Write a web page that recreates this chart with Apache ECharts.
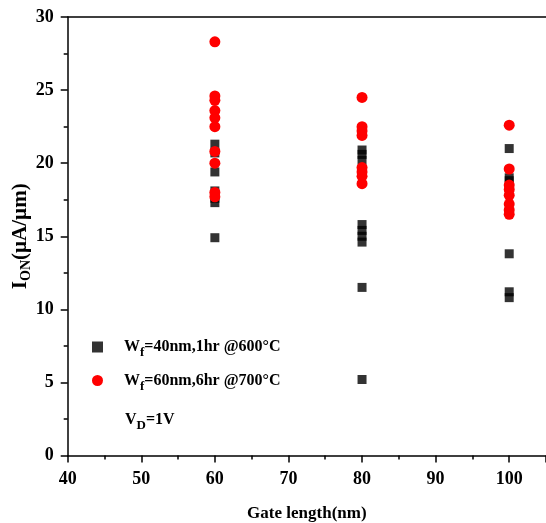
<!DOCTYPE html>
<html>
<head>
<meta charset="utf-8">
<script src="https://cdn.jsdelivr.net/npm/echarts@6/dist/echarts.min.js"></script>
<style>
  html, body { margin: 0; padding: 0; background: #fff; }
  #chart { width: 546px; height: 523px; }
</style>
</head>
<body>
<div id="chart"></div>
<script>
// Gate lengths measured (nm)
const gateLengths = [60, 80, 100];

// On-current (uA/um) per gate length, Wf = 40 nm, 1 hr @ 600 C
const ion40nm_L60 = [21.3, 20.7, 19.4, 18.1, 17.6, 17.3, 14.9];
const ion40nm_L80 = [20.9, 20.6, 20.2, 15.8, 15.4, 15.0, 14.6, 11.5, 5.2];
const ion40nm_L100 = [21.0, 19.0, 18.8, 13.8, 11.2, 10.8];

// On-current (uA/um) per gate length, Wf = 60 nm, 6 hr @ 700 C
const ion60nm_L60 = [28.3, 24.6, 24.3, 23.6, 23.1, 22.5, 20.8, 20.0, 18.0, 17.7];
const ion60nm_L80 = [24.5, 22.5, 22.2, 21.9, 19.7, 19.4, 19.1, 18.6];
const ion60nm_L100 = [22.6, 19.6, 18.5, 18.2, 17.8, 17.2, 16.8, 16.5];

const xTickValues = [40, 50, 60, 70, 80, 90, 100];
const yTickValues = [0, 5, 10, 15, 20, 25, 30];

function pairs(lists) {
  const out = [];
  lists.forEach((vals, i) => vals.forEach(v => out.push([gateLengths[i], v])));
  return out;
}

const font = 'Liberation Serif';
const chart = echarts.init(document.getElementById('chart'), null, { renderer: 'canvas' });

const axisLine = { show: true, lineStyle: { color: '#000', width: 1.5 } };

chart.setOption({
  animation: false,
  backgroundColor: '#fff',
  grid: { left: 67.7, top: 17, right: 0, bottom: 67.5, containLabel: false, outerBoundsMode: 'none' },
  xAxis: [{
    type: 'value',
    min: 40, max: 105, interval: 10,
    axisLine: axisLine,
    axisTick: { show: true, inside: false, length: 7, lineStyle: { color: '#000', width: 1.5 } },
    minorTick: { show: true, splitNumber: 2, length: 4, lineStyle: { color: '#000', width: 1.5 } },
    splitLine: { show: false },
    axisLabel: {
      margin: 15, color: '#000', fontFamily: font, fontWeight: 'bold', fontSize: 18,
      formatter: v => xTickValues.includes(v) ? String(v) : ''
    },
    name: 'Gate length(nm)',
    nameLocation: 'middle',
    nameGap: 50,
    nameMoveOverlap: false,
    nameTextStyle: { color: '#000', fontFamily: font, fontWeight: 'bold', fontSize: 17 }
  }, {
    type: 'value', position: 'top',
    min: 40, max: 105,
    axisLine: axisLine,
    axisTick: { show: false }, axisLabel: { show: false }, splitLine: { show: false }
  }],
  yAxis: {
    type: 'value',
    min: 0, max: 30, interval: 5,
    axisLine: axisLine,
    axisTick: { show: true, inside: false, length: 7, lineStyle: { color: '#000', width: 1.5 } },
    minorTick: { show: true, splitNumber: 2, length: 4, lineStyle: { color: '#000', width: 1.5 } },
    splitLine: { show: false },
    axisLabel: {
      margin: 14, color: '#000', fontFamily: font, fontWeight: 'bold', fontSize: 18,
      formatter: v => yTickValues.includes(v) ? String(v) : ''
    },
    name: '{n|I}{s|ON}{n|(\u00b5A/\u00b5m)}',
    nameLocation: 'middle',
    nameGap: 34,
    nameMoveOverlap: false,
    nameRotate: 90,
    nameTextStyle: {
      color: '#000', fontFamily: font, fontWeight: 'bold', fontSize: 21,
      rich: {
        n: { fontFamily: font, fontWeight: 'bold', fontSize: 21, color: '#000' },
        s: { fontFamily: font, fontWeight: 'bold', fontSize: 14, color: '#000', padding: [13, 0, 0, 0] }
      }
    }
  },
  legend: {
    orient: 'vertical',
    left: 87, top: 334,
    itemWidth: 11, itemHeight: 11,
    itemGap: 13,
    data: [
      { name: 'wf40', icon: 'rect', itemStyle: { color: '#000' } },
      { name: 'wf60', icon: 'circle', itemStyle: { color: '#ff0000' } }
    ],
    formatter: name => name === 'wf40'
      ? '{n|W}{s|f}{n|=40nm,1hr @600\u00b0C}'
      : '{n|W}{s|f}{n|=60nm,6hr @700\u00b0C}',
    textStyle: {
      padding: [0, 0, 0, 16],
      rich: {
        n: { fontFamily: font, fontWeight: 'bold', fontSize: 16, color: '#000' },
        s: { fontFamily: font, fontWeight: 'bold', fontSize: 13, color: '#000', padding: [12, 0, 0, 0] }
      }
    }
  },
  graphic: [{
    type: 'text',
    left: 125, top: 412,
    style: {
      text: '{n|V}{s|D}{n|=1V}',
      rich: {
        n: { fontFamily: font, fontWeight: 'bold', fontSize: 16, fill: '#000' },
        s: { fontFamily: font, fontWeight: 'bold', fontSize: 13, fill: '#000', padding: [12, 0, 0, 0] }
      }
    }
  }],
  series: [{
    name: 'wf40',
    type: 'scatter',
    symbol: 'rect',
    symbolSize: 9,
    itemStyle: { color: '#000' },
    data: pairs([ion40nm_L60, ion40nm_L80, ion40nm_L100]),
    z: 2
  }, {
    name: 'wf60',
    type: 'scatter',
    symbol: 'circle',
    symbolSize: 11,
    itemStyle: { color: '#ff0000', opacity: 1 },
    data: pairs([ion60nm_L60, ion60nm_L80, ion60nm_L100]),
    z: 3
  }]
});
</script>
</body>
</html>
